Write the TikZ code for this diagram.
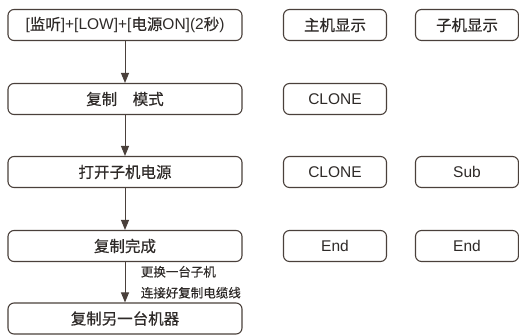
\documentclass[tikz,border=0pt]{standalone}
\usepackage{fontspec}
\setmainfont{Noto Sans CJK SC}[FakeBold=0.45,AutoFakeBold=0.45]
\newfontfamily\lat{Liberation Sans}
\usetikzlibrary{arrows.meta}
\definecolor{linebrown}{HTML}{4A403B}
\definecolor{textgray}{HTML}{2E2A28}
\newcommand{\latin}[1]{{\mdseries\lat #1}}
\begin{document}
\begin{tikzpicture}[x=1pt,y=-1pt,
        stepbox/.style={draw=linebrown,line width=1.1pt,rounded corners=6pt,
            minimum width=234pt,minimum height=31pt,inner sep=0pt,
            text=textgray,font=\fontsize{15.5}{16}\selectfont\bfseries},
        showbox/.style={stepbox,minimum width=103pt},
        dispbox/.style={showbox,font=\fontsize{15.5}{16}\selectfont\lat},
        flow/.style={draw=linebrown,line width=1pt,
            -{Triangle[length=10pt,width=8pt]}}]
\useasboundingbox (0,0) rectangle (519,335);

% left column
\node[stepbox] (s1) at (125,25)
    {\latin{[}监听\latin{]+[LOW]+[}电源\latin{ON](2}秒\latin{)}};
\node[stepbox] (s2) at (125,99) {复制　模式};
\node[stepbox] (s3) at (125,172) {打开子机电源};
\node[stepbox] (s4) at (125,246) {复制完成};
\node[stepbox] (s5) at (125,318.5) {复制另一台机器};

% displays
\node[showbox] (m1) at (335,25) {主机显示};
\node[showbox] (c1) at (467,25) {子机显示};
\node[dispbox] (m2) at (335,99) {CLONE};
\node[dispbox] (m3) at (335,172) {CLONE};
\node[dispbox] (c3) at (467,172) {Sub};
\node[dispbox] (m4) at (335,246) {End};
\node[dispbox] (c4) at (467,246) {End};

\draw[flow] (s1) -- (s2);
\draw[flow] (s2) -- (s3);
\draw[flow] (s3) -- (s4);
\draw[flow] (s4) -- (s5)
    node[midway,right=12pt,align=left,text=textgray,
        font=\fontsize{12.5}{21}\selectfont\bfseries]
    {更换一台子机\\连接好复制电缆线};
\end{tikzpicture}
\end{document}
